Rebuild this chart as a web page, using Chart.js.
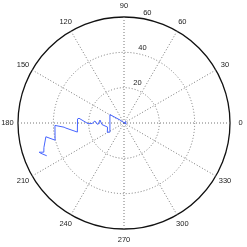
<!DOCTYPE html>
<html>
<head>
<meta charset="utf-8">
<script src="https://cdn.jsdelivr.net/npm/chart.js@4"></script>
<style>
  html, body { margin: 0; padding: 0; background: #fff; }
  #wrap { width: 247px; height: 247px; position: relative; }
</style>
</head>
<body>
<div id="wrap"><canvas id="chart"></canvas></div>
<script>
// ============================================================
// Data (theta in degrees, rho in data units)
// ============================================================
const thetaDeg = [30, 45, 333, 143, 149, 213, 209, 194, 184, 173, 183, 181, 176, 181,
  181, 174, 175, 191, 185, 184, 182, 194, 190, 197, 200, 199, 200, 203];
const rho = [0.5, 1.2, 1.3, 2.8, 9.3, 9.5, 10.8, 9.6, 12.5, 13.7, 14.7, 15.6, 16.5, 18.1,
  20.4, 25.6, 26.4, 26.9, 33.0, 34.0, 39.1, 40.2, 44.9, 47.4, 48.3, 50.8, 50.1, 47.5];

// angle labels, clockwise from the top (radar order)
const angleLabels = ["90", "60", "30", "0", "330", "300", "270", "240", "210", "180", "150", "120"];
const radialTicks = [20, 40, 60];
const RMAX = 60;

// ============================================================
// Helpers
// ============================================================
const FONT = "7.5px 'Liberation Sans', Arial, sans-serif";
// math angle (ccw from east) -> fractional radar index (clockwise from north)
const angleIndex = (deg) => (90 - deg) / 30;

// the rho(theta) trace, placed by the radial scale
const polarLine = {
  id: "polarLine",
  afterDatasetsDraw(chart) {
    const s = chart.scales.r;
    const ctx = chart.ctx;
    ctx.save();
    ctx.strokeStyle = "rgb(70,100,255)";
    ctx.lineWidth = 1;
    ctx.lineJoin = "round";
    ctx.beginPath();
    thetaDeg.forEach((t, i) => {
      const p = s.getPointPositionForValue(angleIndex(t), rho[i]);
      if (i === 0) ctx.moveTo(p.x, p.y); else ctx.lineTo(p.x, p.y);
    });
    ctx.stroke();
    ctx.restore();
  }
};

// labels in the MATLAB polar style
const polarText = {
  id: "polarText",
  afterDraw(chart) {
    const s = chart.scales.r;
    const ctx = chart.ctx;
    ctx.save();
    ctx.font = FONT;
    ctx.fillStyle = "#222";

    // angle labels at 1.1 * rmax, centered
    ctx.textAlign = "center";
    ctx.textBaseline = "middle";
    const d = s.getDistanceFromCenterForValue(RMAX * 1.1);
    angleLabels.forEach((lab, i) => {
      const p = s.getPointPosition(i, d);
      ctx.fillText(lab, p.x, p.y);
    });

    // radial tick labels along 82 deg
    ctx.textAlign = "left";
    ctx.textBaseline = "bottom";
    radialTicks.forEach(v => {
      const p = s.getPointPosition(angleIndex(82), s.getDistanceFromCenterForValue(v + 1));
      ctx.fillText("  " + v, p.x, p.y);
    });
    ctx.restore();
  }
};

// ============================================================
// Chart
// ============================================================
new Chart(document.getElementById("chart"), {
  type: "radar",
  data: {
    labels: angleLabels,
    datasets: [{ data: [], pointRadius: 0, borderWidth: 0 }]
  },
  options: {
    responsive: true,
    maintainAspectRatio: false,
    animation: false,
    layout: { padding: { left: 18, right: 17, top: 17, bottom: 18 } },
    plugins: { legend: { display: false }, tooltip: { enabled: false } },
    scales: {
      r: {
        min: 0,
        max: RMAX,
        ticks: { display: false, stepSize: 20 },
        pointLabels: { display: false },
        grid: {
          circular: true,
          color: (c) => c.tick && c.tick.value === RMAX ? "#111" : "#777",
          lineWidth: (c) => c.tick && c.tick.value === RMAX ? 1.3 : 1
        },
        border: { dash: (c) => c.tick && c.tick.value === RMAX ? [] : [1, 2] },
        angleLines: { color: "#777", lineWidth: 1, borderDash: [1, 2] }
      }
    }
  },
  plugins: [polarLine, polarText]
});
</script>
</body>
</html>
